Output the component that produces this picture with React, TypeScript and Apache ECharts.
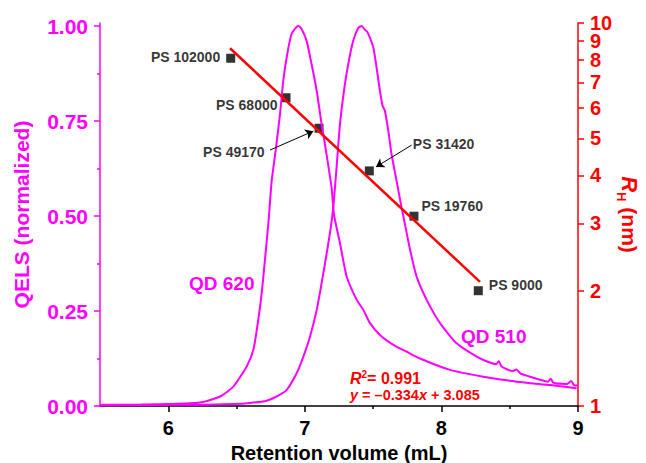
import React, { useEffect, useRef } from "react";
import * as echarts from "echarts";

// QD 620 (left peak), normalized QELS
const qd620X = [5.5, 5.8, 6.0, 6.232, 6.379, 6.476, 6.574, 6.623, 6.659, 6.684, 6.708, 6.735, 6.757, 6.789, 6.818, 6.842, 6.871, 6.903, 6.94, 6.955, 6.976, 7.013, 7.049, 7.087, 7.123, 7.159, 7.196, 7.213, 7.257, 7.306, 7.379, 7.428, 7.477, 7.55, 7.648, 7.745, 7.843, 8.063, 8.307, 8.551, 8.795, 8.99];
const qd620Y = [0.003, 0.004, 0.005, 0.009, 0.025, 0.051, 0.104, 0.148, 0.227, 0.297, 0.385, 0.49, 0.592, 0.68, 0.768, 0.856, 0.926, 0.979, 0.998, 1.0, 0.992, 0.961, 0.9, 0.829, 0.741, 0.662, 0.574, 0.504, 0.429, 0.341, 0.28, 0.253, 0.218, 0.187, 0.161, 0.143, 0.125, 0.095, 0.077, 0.064, 0.055, 0.047];

// QD 510 (right peak), normalized QELS
const qd510X = [5.5, 6.0, 6.232, 6.476, 6.6, 6.72, 6.793, 6.866, 6.94, 6.989, 7.038, 7.087, 7.123, 7.159, 7.19, 7.21, 7.232, 7.257, 7.286, 7.318, 7.354, 7.391, 7.416, 7.44, 7.452, 7.47, 7.501, 7.525, 7.55, 7.569, 7.586, 7.611, 7.635, 7.672, 7.708, 7.721, 7.77, 7.818, 7.891, 7.99, 8.111, 8.258, 8.35, 8.4, 8.42, 8.44, 8.52, 8.55, 8.58, 8.722, 8.78, 8.8, 8.82, 8.92, 8.95, 8.97, 9.0];
const qd510Y = [0.002, 0.003, 0.003, 0.005, 0.008, 0.014, 0.025, 0.042, 0.086, 0.13, 0.183, 0.253, 0.324, 0.4, 0.47, 0.53, 0.627, 0.741, 0.829, 0.9, 0.961, 0.995, 1.0, 0.99, 0.987, 0.975, 0.944, 0.891, 0.829, 0.79, 0.777, 0.724, 0.662, 0.592, 0.522, 0.5, 0.412, 0.341, 0.28, 0.218, 0.165, 0.13, 0.115, 0.11, 0.118, 0.104, 0.092, 0.096, 0.085, 0.069, 0.064, 0.072, 0.061, 0.058, 0.066, 0.055, 0.054];

// PS standards: retention volume vs hydrodynamic radius (nm)
const psNames = ["PS 102000", "PS 68000", "PS 49170", "PS 31420", "PS 19760", "PS 9000"];
const psX = [6.457, 6.862, 7.104, 7.472, 7.799, 8.27];
const psRh = [8.09, 6.38, 5.31, 4.11, 3.13, 2.0];

// Linear fit line (log scale) endpoints
const fitX = [6.452, 8.282];
const fitRh = [8.59, 2.11];

// Arrows for labels PS 49170 and PS 31420: [x1, rh1, x2, rh2]
const arrows = [
  [6.745, 4.66, 7.062, 5.22],
  [7.782, 4.8, 7.521, 4.21],
];

const leftTicks = [0, 0.25, 0.5, 0.75, 1.0];
const leftMinor = [0.125, 0.375, 0.625, 0.875];
const xTicks = [6, 7, 8, 9];
const xMinor = [6.5, 7.5, 8.5];
const rightTickValues = [1, 2, 3, 4, 5, 6, 7, 8, 9, 10];
// right-axis labels split in groups so close labels are not hidden
const rightLabelGroups = [[1, 2, 3, 4, 5, 6, 7, 8], [9], [10]];

const MAGENTA = "#FF00FF";
const RED = "#FF0000";
const FONT = "'Liberation Sans', Arial, sans-serif";

export default function App() {
  const ref = useRef<HTMLDivElement>(null);
  useEffect(() => {
    document.body.style.margin = "0";
    const chart = echarts.init(ref.current!, null, { renderer: "svg" });
    const lg = (v: number) => Math.log10(v);
    const rightLabelStyle = {
      color: RED,
      fontFamily: FONT,
      fontWeight: "bold",
      fontSize: 20,
      margin: 12,
      hideOverlap: false,
      showMinLabel: true,
      showMaxLabel: true,
      formatter: (v: number) => String(Math.round(Math.pow(10, v))),
    };
    const labelCfg = [
      { position: "left", distance: 6, offset: [0, -1] },
      { position: "left", distance: 4, offset: [0, 7] },
      { position: "left", distance: 5, offset: [-45, 24] },
      { position: "right", distance: 5, offset: [34, -27] },
      { position: "right", distance: 3, offset: [0, -10] },
      { position: "right", distance: 6, offset: [0, -6] },
    ];
    const extraRight = rightLabelGroups.slice(1).map((g) => ({
      type: "value",
      min: 0,
      max: 1,
      position: "right",
      offset: 0,
      splitLine: { show: false },
      axisLine: { show: false },
      axisTick: { show: false },
      axisLabel: { ...rightLabelStyle, customValues: g.map(lg) },
    }));
    const option: any = {
      animation: false,
      backgroundColor: "#fff",
      grid: { left: 100, right: 68, top: 23, bottom: 57, containLabel: false, outerBoundsMode: "none" },
      xAxis: [
        {
          type: "value",
          min: 5.5,
          max: 9,
          position: "bottom",
          splitLine: { show: false },
          axisLine: { lineStyle: { color: "#000", width: 1.5 } },
          axisTick: { customValues: xTicks, length: 6, lineStyle: { color: "#000", width: 1.5 } },
          axisLabel: {
            customValues: xTicks,
            color: "#000",
            fontFamily: FONT,
            fontWeight: "bold",
            fontSize: 20,
            margin: 12,
            showMaxLabel: true,
            formatter: (v: number) => String(Math.round(v)),
          },
          name: "Retention volume (mL)",
          nameLocation: "middle",
          nameGap: 35,
          nameTextStyle: { color: "#000", fontFamily: FONT, fontWeight: "bold", fontSize: 20 },
        },
        {
          type: "value",
          min: 5.5,
          max: 9,
          position: "bottom",
          offset: 0,
          splitLine: { show: false },
          axisLine: { show: false },
          axisTick: { customValues: xMinor, length: 3, lineStyle: { color: "#000", width: 1.5 } },
          axisLabel: { show: false },
        },
      ],
      yAxis: [
        {
          type: "value",
          min: 0,
          max: 1.008,
          position: "left",
          splitLine: { show: false },
          axisLine: { show: true, lineStyle: { color: MAGENTA, width: 1.5 } },
          axisTick: { show: true, customValues: leftTicks, length: 6, lineStyle: { color: MAGENTA, width: 1.5 } },
          axisLabel: {
            customValues: leftTicks,
            color: MAGENTA,
            fontFamily: FONT,
            fontWeight: "bold",
            fontSize: 21,
            margin: 12,
            formatter: (v: number) => v.toFixed(2),
          },
          name: "QELS (normalized)",
          nameLocation: "middle",
          nameGap: 68,
          nameTextStyle: { color: MAGENTA, fontFamily: FONT, fontWeight: "bold", fontSize: 21 },
        },
        {
          type: "value",
          min: 0,
          max: 1,
          position: "right",
          splitLine: { show: false },
          axisLine: { show: true, lineStyle: { color: RED, width: 1.5 } },
          axisTick: { show: true, customValues: rightTickValues.map(lg), length: 6, lineStyle: { color: RED, width: 1.5 } },
          axisLabel: { ...rightLabelStyle, customValues: rightLabelGroups[0].map(lg) },
          name: "{r|R}{h|H}{n| (nm)}",
          nameLocation: "middle",
          nameGap: 40,
          nameRotate: -90,
          nameTextStyle: {
            color: RED,
            rich: {
              r: { fontFamily: FONT, fontWeight: "bold", fontStyle: "italic", fontSize: 22, color: RED, lineHeight: 22 },
              h: { fontFamily: FONT, fontWeight: "bold", fontSize: 13, color: RED, verticalAlign: "bottom", lineHeight: 22, padding: [0, 0, -3, 0] },
              n: { fontFamily: FONT, fontWeight: "bold", fontSize: 21, color: RED, lineHeight: 22 },
            },
          },
        },
        {
          type: "value",
          min: 0,
          max: 1.008,
          position: "left",
          offset: 0,
          splitLine: { show: false },
          axisLine: { show: false },
          axisTick: { show: true, customValues: leftMinor, length: 3, lineStyle: { color: MAGENTA, width: 1.5 } },
          axisLabel: { show: false },
        },
        ...extraRight,
      ],
      series: [
        {
          name: "QD 620",
          type: "line",
          xAxisIndex: 0,
          yAxisIndex: 0,
          showSymbol: false,
          smooth: 0.2,
          lineStyle: { color: MAGENTA, width: 2 },
          data: qd620X.map((x, i) => [x, qd620Y[i]]),
        },
        {
          name: "QD 510",
          type: "line",
          xAxisIndex: 0,
          yAxisIndex: 0,
          showSymbol: false,
          smooth: 0.2,
          lineStyle: { color: MAGENTA, width: 2 },
          data: qd510X.map((x, i) => [x, qd510Y[i]]),
        },
        {
          name: "fit",
          type: "line",
          xAxisIndex: 0,
          yAxisIndex: 1,
          showSymbol: false,
          lineStyle: { color: RED, width: 2.5 },
          data: fitX.map((x, i) => [x, lg(fitRh[i])]),
        },
        {
          name: "PS",
          type: "scatter",
          xAxisIndex: 0,
          yAxisIndex: 1,
          symbol: "rect",
          symbolSize: 9,
          itemStyle: { color: "#000" },
          data: psX.map((x, i) => ({
            value: [x, lg(psRh[i])],
            label: {
              show: true,
              formatter: psNames[i],
              color: "#000",
              fontFamily: FONT,
              fontWeight: "bold",
              fontSize: 14,
              ...labelCfg[i],
            },
          })),
          markLine: {
            silent: true,
            symbol: ["none", "arrow"],
            symbolSize: 8,
            label: { show: false },
            lineStyle: { color: "#000", width: 1, type: "solid" },
            data: arrows.map((a) => [
              { coord: [a[0], lg(a[1])] },
              { coord: [a[2], lg(a[3])] },
            ]),
          },
        },
      ],
      graphic: [
        {
          type: "text",
          x: 189,
          y: 283,
          style: { text: "QD 620", fill: MAGENTA, fontFamily: FONT, fontWeight: "bold", fontSize: 19, verticalAlign: "middle" },
        },
        {
          type: "text",
          x: 461,
          y: 336,
          style: { text: "QD 510", fill: MAGENTA, fontFamily: FONT, fontWeight: "bold", fontSize: 19, verticalAlign: "middle" },
        },
        {
          type: "text",
          x: 350,
          y: 378,
          style: {
            text: "{ri|R}{sup|2}{b|= 0.991}",
            verticalAlign: "middle",
            rich: {
              ri: { fontFamily: FONT, fontWeight: "bold", fontStyle: "italic", fontSize: 16, fill: RED, lineHeight: 18 },
              sup: { fontFamily: FONT, fontWeight: "bold", fontSize: 10, fill: RED, verticalAlign: "top", lineHeight: 18 },
              b: { fontFamily: FONT, fontWeight: "bold", fontSize: 16, fill: RED, lineHeight: 18 },
            },
          },
        },
        {
          type: "text",
          x: 350,
          y: 395,
          style: {
            text: "{i|y}{b| = \u20130.334}{i|x}{b| + 3.085}",
            verticalAlign: "middle",
            rich: {
              i: { fontFamily: FONT, fontWeight: "bold", fontStyle: "italic", fontSize: 14.5, fill: RED },
              b: { fontFamily: FONT, fontWeight: "bold", fontSize: 14.5, fill: RED },
            },
          },
        },
      ],
    };
    chart.setOption(option);
    return () => chart.dispose();
  }, []);
  return <div ref={ref} style={{ width: 646, height: 463 }} />;
}
